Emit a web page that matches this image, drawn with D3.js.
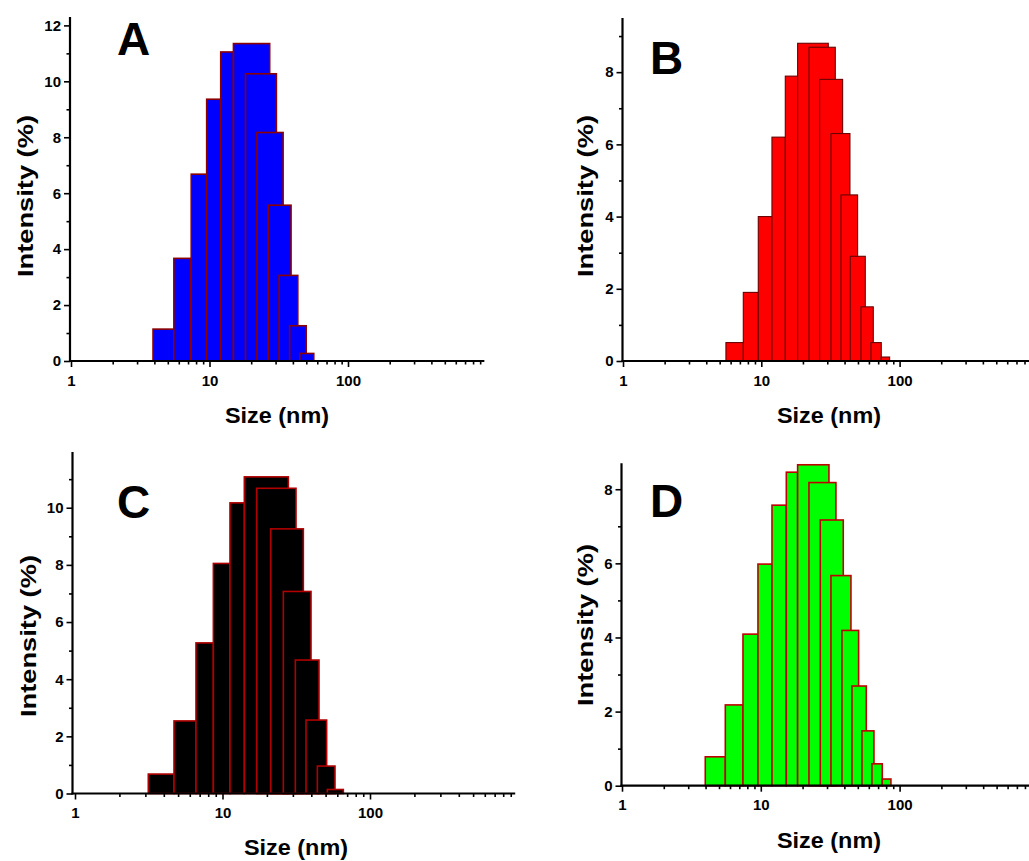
<!DOCTYPE html>
<html>
<head>
<meta charset="utf-8">
<script src="https://cdn.jsdelivr.net/npm/d3@7/dist/d3.min.js"></script>
<style>
  body { margin: 0; background: #fff; }
  svg { display: block; }
  text { font-family: "Liberation Sans", Arial, sans-serif; font-weight: bold; fill: #000; }
</style>
</head>
<body>
<svg id="chart" width="1029" height="861"></svg>
<script>
// Size distribution by intensity (DLS), four samples.
// Each bin: start size (nm), end size (nm), intensity (%).
const startA = [3.91, 5.53, 7.38, 9.54, 12.05, 14.89, 18.2, 22.0, 26.6, 31.8, 37.9, 44.9];
const endA   = [5.53, 7.30, 9.54, 12.05, 14.89, 27.2, 30.4, 34.0, 38.8, 43.4, 49.9, 56.6];
const intensityA = [1.14, 3.67, 6.68, 9.36, 11.05, 11.35, 10.27, 8.17, 5.57, 3.06, 1.26, 0.27];

const startB = [5.55, 7.41, 9.51, 11.94, 14.91, 18.31, 22.12, 26.41, 31.89, 37.66, 44.0, 52.55, 62.06, 73.7];
const endB   = [7.41, 9.51, 11.94, 14.91, 18.31, 30.51, 34.27, 38.73, 43.75, 49.70, 56.47, 64.52, 73.7, 84.7];
const intensityB = [0.51, 1.90, 4.0, 6.2, 7.89, 8.8, 8.69, 7.80, 6.30, 4.6, 2.9, 1.5, 0.51, 0.11];

const startC = [3.14, 4.69, 6.61, 8.67, 11.24, 14.06, 17.04, 21.21, 25.85, 31.17, 36.82, 43.96, 51.36];
const endC   = [4.69, 6.61, 8.67, 11.24, 14.06, 27.95, 31.50, 35.32, 39.81, 45.11, 50.84, 57.89, 65.95];
const intensityC = [0.68, 2.54, 5.27, 8.05, 10.17, 11.08, 10.68, 9.26, 7.07, 4.67, 2.57, 0.96, 0.14];

const startD = [3.98, 5.55, 7.44, 9.54, 12.04, 15.27, 18.42, 22.23, 26.83, 32.02, 38.42, 45.37, 53.56, 63.20, 75.03];
const endD   = [5.55, 7.44, 9.54, 12.04, 15.27, 18.42, 30.97, 34.78, 39.28, 44.61, 50.67, 57.54, 65.34, 75.03, 86.6];
const intensityD = [0.78, 2.18, 4.09, 5.98, 7.57, 8.46, 8.66, 8.18, 7.17, 5.67, 4.19, 2.69, 1.48, 0.59, 0.18];

// Axis ticks
const xMajorTicks = [1, 10, 100];
const xMinorTicks = [2, 3, 4, 5, 6, 7, 8, 9, 20, 30, 40, 50, 60, 70, 80, 90, 200, 300, 400, 500, 600, 700, 800, 900];
const yMajorA = [0, 2, 4, 6, 8, 10, 12], yMinorA = [1, 3, 5, 7, 9, 11];
const yMajorB = [0, 2, 4, 6, 8],         yMinorB = [1, 3, 5, 7, 9];
const yMajorC = [0, 2, 4, 6, 8, 10],     yMinorC = [1, 3, 5, 7, 9, 11];
const yMajorD = [0, 2, 4, 6, 8],         yMinorD = [1, 3, 5, 7];

const xTitle = "Size (nm)";
const yTitle = "Intensity (%)";

// Panel layout and styling
const panels = [
  { label: "A", start: startA, end: endA, value: intensityA, yMax: 12.3, yMajor: yMajorA, yMinor: yMinorA,
    fill: "#0000ff", stroke: "#8b0000", sw: 1.6,
    x1: 71, decade: 138.5, axisX: 70, y0: 361, yTop: 17,
    labelPos: [117, 55], yTitlePos: [33, 196], xTitlePos: [277, 423] },
  { label: "B", start: startB, end: endB, value: intensityB, yMax: 9.5, yMajor: yMajorB, yMinor: yMinorB,
    fill: "#ff0000", stroke: "#6a0000", sw: 1.1,
    x1: 623, decade: 138.3, axisX: 622.5, y0: 361, yTop: 18,
    labelPos: [650, 74], yTitlePos: [593, 196], xTitlePos: [829, 423] },
  { label: "C", start: startC, end: endC, value: intensityC, yMax: 11.95, yMajor: yMajorC, yMinor: yMinorC,
    fill: "#000000", stroke: "#b00000", sw: 1.6,
    x1: 75, decade: 147.5, axisX: 72.5, y0: 793.5, yTop: 452,
    labelPos: [117, 518], yTitlePos: [36, 636], xTitlePos: [296, 855] },
  { label: "D", start: startD, end: endD, value: intensityD, yMax: 8.7, yMajor: yMajorD, yMinor: yMinorD,
    fill: "#00ff00", stroke: "#c00000", sw: 1.6,
    x1: 622, decade: 138.8, axisX: 621.5, y0: 785.7, yTop: 463.3,
    labelPos: [650, 517], yTitlePos: [593, 625], xTitlePos: [829, 848] }
];

const svg = d3.select("#chart");

panels.forEach(p => {
  const x = d3.scaleLog().domain([1, 1000]).range([p.x1, p.x1 + 3 * p.decade]);
  const y = d3.scaleLinear().domain([0, p.yMax]).range([p.y0, p.yTop]);
  const g = svg.append("g");

  // bars, drawn in order so later bins sit over earlier ones
  const bins = p.value.map((v, i) => ({ s: p.start[i], e: p.end[i], v }));
  g.append("g").selectAll("rect").data(bins).join("rect")
    .attr("x", d => x(d.s))
    .attr("width", d => x(d.e) - x(d.s))
    .attr("y", d => y(d.v))
    .attr("height", d => y(0) - y(d.v))
    .attr("fill", p.fill)
    .attr("stroke", p.stroke)
    .attr("stroke-width", p.sw);

  // x axis: major + minor ticks
  const gx = g.append("g").attr("transform", `translate(0,${p.y0})`);
  gx.call(d3.axisBottom(x).tickValues(xMajorTicks).tickSize(6).tickPadding(8).tickFormat(d3.format("d")));
  gx.append("g").call(d3.axisBottom(x).tickValues(xMinorTicks).tickSize(3.5).tickFormat(""));
  gx.selectAll(".domain").remove();
  gx.selectAll("line").attr("stroke", "#000").attr("stroke-width", 1.6);
  gx.selectAll("text").attr("font-size", 15).attr("fill", "#000");
  gx.append("line").attr("x1", p.axisX - 1).attr("x2", x(965)).attr("stroke", "#000").attr("stroke-width", 2.2);

  // y axis: major + minor ticks
  const gy = g.append("g").attr("transform", `translate(${p.axisX},0)`);
  gy.call(d3.axisLeft(y).tickValues(p.yMajor).tickSize(6).tickPadding(3).tickFormat(d3.format("d")));
  gy.append("g").call(d3.axisLeft(y).tickValues(p.yMinor).tickSize(3.5).tickFormat(""));
  gy.selectAll(".domain").remove();
  gy.selectAll("line").attr("stroke", "#000").attr("stroke-width", 1.6);
  gy.selectAll("text").attr("font-size", 15).attr("fill", "#000");
  gy.append("line").attr("y1", p.y0 + 1).attr("y2", p.yTop).attr("stroke", "#000").attr("stroke-width", 2.2);

  // titles
  g.append("text")
    .attr("x", p.xTitlePos[0]).attr("y", p.xTitlePos[1])
    .attr("text-anchor", "middle").attr("font-size", 22)
    .attr("textLength", 104).attr("lengthAdjust", "spacingAndGlyphs")
    .text(xTitle);
  g.append("text")
    .attr("transform", `translate(${p.yTitlePos[0]},${p.yTitlePos[1]}) rotate(-90)`)
    .attr("text-anchor", "middle").attr("font-size", 22)
    .attr("textLength", 162).attr("lengthAdjust", "spacingAndGlyphs")
    .text(yTitle);

  // panel letter
  g.append("text")
    .attr("x", p.labelPos[0]).attr("y", p.labelPos[1])
    .attr("font-size", 46)
    .text(p.label);
});
</script>
</body>
</html>
